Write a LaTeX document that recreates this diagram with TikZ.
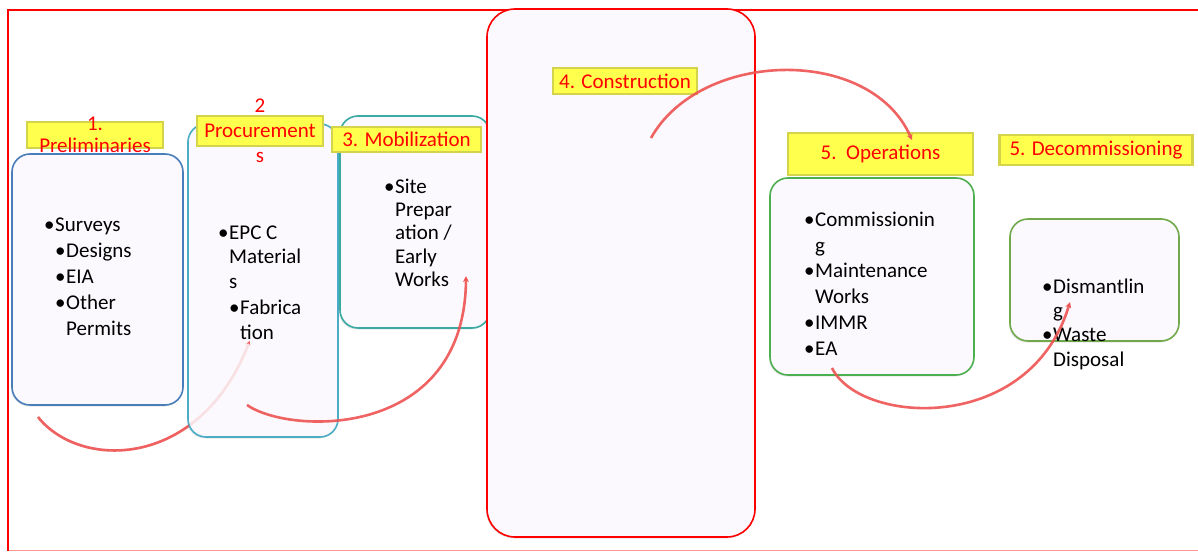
\documentclass[tikz,border=0pt]{standalone}
\usepackage{fontspec}
\setmainfont{Carlito}
\usetikzlibrary{arrows.meta,shadows}
\definecolor{boxfill}{HTML}{FBF9FD}
\definecolor{tagyellow}{HTML}{FFFF4D}
\definecolor{tagedge}{HTML}{D4D44C}
\definecolor{flowred}{HTML}{EE5252}
\definecolor{prelimblue}{HTML}{4A7EBB}
\definecolor{procteal}{HTML}{4BACC6}
\definecolor{mobteal}{HTML}{3AAAA2}
\definecolor{opgreen}{HTML}{4CAF50}
\definecolor{decgreen}{HTML}{71A94A}
\newcommand{\bul}{\makebox[11pt][l]{\textbullet}}
\newcommand{\ind}{\hspace*{11pt}}
\newcommand{\topline}{\rule{0pt}{16pt}}
\tikzset{
  stage/.style={draw, line width=1.6pt, rounded corners=18pt, fill=boxfill,
    drop shadow={opacity=0.2, shadow xshift=-1pt, shadow yshift=-1.5pt}},
  tag/.style={fill=tagyellow, draw=tagedge, line width=2.5pt, inner sep=0pt},
  tagtext/.style={text=red, align=center, inner sep=0pt, font=\fontsize{21}{#1}\selectfont},
  tagtext/.default=24,
  items/.style={anchor=north west, align=left, inner sep=0pt, font=\fontsize{21}{#1}\selectfont},
  flow/.style={draw=flowred, draw opacity=0.9, line width=2.6pt, -{Stealth[length=6pt,width=6pt]}}
}
\begin{document}
\begin{tikzpicture}[x=1pt,y=-1pt]
\useasboundingbox (0,0) rectangle (1198,551);
\draw[red!40, line width=1pt] (8,550) -- (1198,550);
\draw[red, line width=1.2pt] (8,551) -- (8,10) -- (1198,10);

% 1. preliminaries
\node[stage, draw=prelimblue, minimum width=171pt, minimum height=251pt] (prelim) at (97.5,279.5) {};
\node[items=26] (prelimtxt) at (44,215) {\topline\bul Surveys\\ \ind\bul Designs\\ \ind\bul EIA\\ \ind\bul Other\\ \ind\ind Permits};
\coordinate (f1a) at (38,417);
\coordinate (f1b) at (250,340);
\draw[flow] (f1a) .. controls (80,470) and (200,470) .. (f1b);

% 2. procurements
\node[stage, draw=procteal, minimum width=150pt, minimum height=313pt] (procure) at (263,280.5) {};
\draw[flow, draw opacity=0.15] (f1a) .. controls (80,470) and (200,470) .. (f1b);
\node[items=24.5] (proctxt) at (218,223) {\topline\bul EPC C\\ \ind Material\\ \ind s\\[2pt] \ind\bul Fabrica\\ \ind\ind tion};

% 3. mobilization
\node[stage, draw=mobteal, minimum width=150pt, minimum height=212pt] (mobil) at (415,222) {};
\node[items=23.3] (mobtxt) at (384,177) {\topline\bul Site\\ \ind Prepar\\ \ind ation /\\ \ind Early\\ \ind Works};
\coordinate (f2a) at (247,405);
\coordinate (f2b) at (466,276);
\draw[flow] (f2a) .. controls (290,435) and (465,440) .. (f2b);

% 4. construction
\node[stage, draw=red, rounded corners=28pt, minimum width=268pt, minimum height=528pt] (constr) at (621,273) {};

% 5. operations
\node[stage, draw=opgreen, minimum width=204pt, minimum height=197pt] (oper) at (872,276.5) {};
\node[items=25.8] (opertxt) at (804,210) {\topline\bul Commissionin\\ \ind g\\ \bul Maintenance\\ \ind Works\\ \bul IMMR\\ \bul EA};

% 6. decommissioning
\node[stage, draw=decgreen, minimum width=169pt, minimum height=122pt] (decom) at (1094.5,280) {};
\node[items=24.3] (decomtxt) at (1042,277) {\topline\bul Dismantlin\\ \ind g\\ \bul Waste\\ \ind Disposal};

% stage tags
\node[tag, minimum width=136pt, minimum height=26pt] (tag1) at (95,135) {};
\node[tag, minimum width=126pt, minimum height=30pt] (tag2) at (260,131) {};
\node[tag, minimum width=149pt, minimum height=25pt] (tag3) at (406.5,139.5) {};
\node[tag, minimum width=144pt, minimum height=26pt] (tag4) at (625,81) {};
\node[tag, minimum width=185pt, minimum height=42pt] (tag5) at (880.5,154) {};
\node[tag, minimum width=193pt, minimum height=30pt] (tag6) at (1096,150) {};
\node[tagtext=22] (tag1t) at (tag1) {1.\\Preliminaries};
\node[tagtext=25] (tag2t) at (tag2) {2\\Procurement\\s};
\node[tagtext] (tag3t) at (tag3) {3. Mobilization};
\node[tagtext] (tag4t) at (tag4) {4. Construction};
\node[tagtext] (tag5t) at (tag5) {5.~~Operations};
\node[tagtext] (tag6t) at (tag6) {5. Decommissioning};

% flow arcs
\coordinate (f3a) at (651,138);
\coordinate (f3b) at (912,140);
\draw[flow] (f3a) .. controls (700,50) and (870,45) .. (f3b);
\coordinate (f4a) at (832,368);
\coordinate (f4b) at (1070,302);
\draw[flow] (f4a) .. controls (860,425) and (1030,435) .. (f4b);
\end{tikzpicture}
\end{document}
